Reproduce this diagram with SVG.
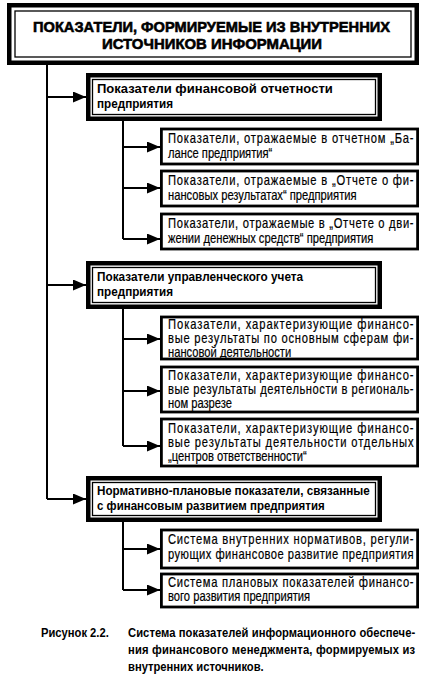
<svg xmlns="http://www.w3.org/2000/svg" width="432" height="681" viewBox="0 0 432 681">
<defs>
<marker id="ah" markerUnits="userSpaceOnUse" markerWidth="14" markerHeight="12" refX="13" refY="5.5" orient="auto">
<path d="M0,0 L13,5.5 L0,11 Z" fill="#000"/>
</marker>
<style>
.outer{fill:#fff;stroke:#000;stroke-width:4.5}
.inner{fill:none;stroke:#000;stroke-width:1.3}
.sub{fill:#fff;stroke:#000;stroke-width:2.8}
.ln{fill:none;stroke:#000;stroke-width:2}
.arr{fill:none;stroke:#000;stroke-width:2;marker-end:url(#ah)}
.t{font-family:"Liberation Sans",Arial,sans-serif;font-size:14px;fill:#000;stroke:#000;stroke-width:0.2}
.b{font-family:"Liberation Sans",Arial,sans-serif;font-size:13px;font-weight:bold;fill:#000}
.h{font-family:"Liberation Sans",Arial,sans-serif;font-size:15.5px;font-weight:bold;fill:#000;stroke:#000;stroke-width:0.6}
.c{font-family:"Liberation Sans",Arial,sans-serif;font-size:13.5px;font-weight:bold;fill:#000}
</style>
</defs>
<rect width="432" height="681" fill="#fff"/>

<g id="connectors">
<path class="ln" d="M47,65 V499"/>
<path class="arr" d="M47,97 H86"/>
<path class="arr" d="M47,285 H86"/>
<path class="arr" d="M47,499 H86"/>
<path class="ln" d="M123,121 V239"/>
<path class="arr" d="M123,147 H160"/>
<path class="arr" d="M123,188 H160"/>
<path class="arr" d="M123,239 H160"/>
<path class="ln" d="M123,309 V446"/>
<path class="arr" d="M123,339 H160"/>
<path class="arr" d="M123,391 H160"/>
<path class="arr" d="M123,446 H160"/>
<path class="ln" d="M123,522 V590"/>
<path class="arr" d="M123,549 H160"/>
<path class="arr" d="M123,590 H160"/>
</g>

<g id="title">
<rect class="outer" x="9.25" y="5.25" width="407.5" height="57.5"/>
<rect class="inner" x="15" y="11" width="396" height="46"/>
<text class="h" x="33" y="32" textLength="357" lengthAdjust="spacingAndGlyphs">ПОКАЗАТЕЛИ, ФОРМИРУЕМЫЕ ИЗ ВНУТРЕННИХ</text>
<text class="h" x="102" y="49" textLength="220" lengthAdjust="spacingAndGlyphs">ИСТОЧНИКОВ ИНФОРМАЦИИ</text>
</g>

<g id="n1">
<rect class="outer" x="88.25" y="75.25" width="291.5" height="43.5"/>
<rect class="inner" x="92.5" y="79.5" width="283" height="35"/>
<text class="b" transform="translate(97,93) scale(0.9,1)" textLength="262" lengthAdjust="spacingAndGlyphs">Показатели финансовой отчетности</text>
<text class="b" transform="translate(97,108) scale(0.9,1)">предприятия</text>
</g>

<g id="n1a">
<rect class="sub" x="161.4" y="129" width="256.2" height="35"/>
<text class="t" transform="translate(168,143) scale(0.8,1)" textLength="307" lengthAdjust="spacing">Показатели, отражаемые в отчетном „Ба-</text>
<text class="t" transform="translate(168,158) scale(0.8,1)">лансе предприятия“</text>
</g>
<g id="n1b">
<rect class="sub" x="161.4" y="171" width="256.2" height="35"/>
<text class="t" transform="translate(168,185) scale(0.8,1)" textLength="307" lengthAdjust="spacing">Показатели, отражаемые в „Отчете о фи-</text>
<text class="t" transform="translate(168,200) scale(0.8,1)">нансовых результатах“ предприятия</text>
</g>
<g id="n1c">
<rect class="sub" x="161.4" y="214" width="256.2" height="35"/>
<text class="t" transform="translate(168,228) scale(0.8,1)" textLength="307" lengthAdjust="spacing">Показатели, отражаемые в „Отчете о дви-</text>
<text class="t" transform="translate(168,243) scale(0.8,1)">жении денежных средств“ предприятия</text>
</g>

<g id="n2">
<rect class="outer" x="88.25" y="263.25" width="291.5" height="43.5"/>
<rect class="inner" x="92.5" y="267.5" width="283" height="35"/>
<text class="b" transform="translate(97,281) scale(0.9,1)" textLength="229" lengthAdjust="spacingAndGlyphs">Показатели управленческого учета</text>
<text class="b" transform="translate(97,296) scale(0.9,1)">предприятия</text>
</g>

<g id="n2a">
<rect class="sub" x="161.4" y="317" width="256.2" height="42"/>
<text class="t" transform="translate(168,329) scale(0.8,1)" textLength="307" lengthAdjust="spacing">Показатели, характеризующие финансо-</text>
<text class="t" transform="translate(168,343) scale(0.8,1)" textLength="307" lengthAdjust="spacing">вые результаты по основным сферам фи-</text>
<text class="t" transform="translate(168,357) scale(0.8,1)">нансовой деятельности</text>
</g>
<g id="n2b">
<rect class="sub" x="161.4" y="367" width="256.2" height="45"/>
<text class="t" transform="translate(168,380) scale(0.8,1)" textLength="307" lengthAdjust="spacing">Показатели, характеризующие финансо-</text>
<text class="t" transform="translate(168,394) scale(0.8,1)" textLength="307" lengthAdjust="spacing">вые результаты деятельности в региональ-</text>
<text class="t" transform="translate(168,408) scale(0.8,1)">ном разрезе</text>
</g>
<g id="n2c">
<rect class="sub" x="161.4" y="419" width="256.2" height="47"/>
<text class="t" transform="translate(168,433) scale(0.8,1)" textLength="307" lengthAdjust="spacing">Показатели, характеризующие финансо-</text>
<text class="t" transform="translate(168,447) scale(0.8,1)" textLength="307" lengthAdjust="spacing">вые результаты деятельности отдельных</text>
<text class="t" transform="translate(168,461) scale(0.8,1)">„центров ответственности“</text>
</g>

<g id="n3">
<rect class="outer" x="88.25" y="478.25" width="291.5" height="41.5"/>
<rect class="inner" x="92.5" y="482.5" width="283" height="33"/>
<text class="b" transform="translate(97,495) scale(0.9,1)" textLength="303" lengthAdjust="spacingAndGlyphs">Нормативно-плановые показатели, связанные</text>
<text class="b" transform="translate(97,510) scale(0.9,1)" textLength="253" lengthAdjust="spacingAndGlyphs">с финансовым развитием предприятия</text>
</g>

<g id="n3a">
<rect class="sub" x="161.4" y="530" width="256.2" height="38"/>
<text class="t" transform="translate(168,544) scale(0.8,1)" textLength="307" lengthAdjust="spacing">Система внутренних нормативов, регули-</text>
<text class="t" transform="translate(168,559) scale(0.8,1)" textLength="307" lengthAdjust="spacing">рующих финансовое развитие предприятия</text>
</g>
<g id="n3b">
<rect class="sub" x="161.4" y="574" width="256.2" height="33"/>
<text class="t" transform="translate(168,587) scale(0.8,1)" textLength="307" lengthAdjust="spacing">Система плановых показателей финансо-</text>
<text class="t" transform="translate(168,601) scale(0.8,1)">вого развития предприятия</text>
</g>

<g id="caption">
<text class="c" transform="translate(41,637) scale(0.83,1)">Рисунок 2.2.</text>
<text class="c" transform="translate(128,637) scale(0.83,1)" textLength="346" lengthAdjust="spacing">Система показателей информационного обеспече-</text>
<text class="c" transform="translate(128,654) scale(0.83,1)" textLength="346" lengthAdjust="spacing">ния финансового менеджмента, формируемых из</text>
<text class="c" transform="translate(128,671) scale(0.83,1)">внутренних источников.</text>
</g>
</svg>
